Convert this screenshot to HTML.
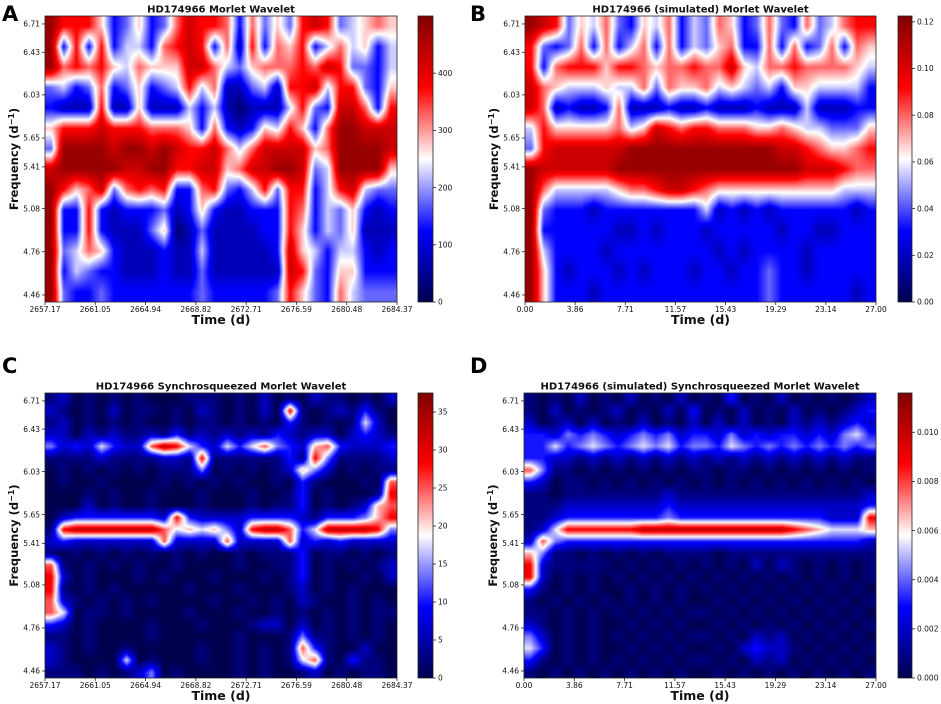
<!DOCTYPE html>
<html><head><meta charset="utf-8">
<style>
html,body{margin:0;padding:0;background:#fff;}
#wrap{position:relative;width:941px;height:704px;overflow:hidden;background:#fff;}
canvas{position:absolute;}
svg{position:absolute;left:0;top:0;}
text{font-family:"DejaVu Sans","Liberation Sans",sans-serif;}
</style></head>
<body>
<div id="wrap">
<svg id="svg" width="941" height="704"></svg>
</div>
<script>
// ---- data ----
const panelAGrid = [
"9777523"+"5236877"+"6263537"+"8734565",
"9272724"+"4267872"+"6172657"+"2464524",
"9676754"+"6555886"+"4356667"+"6873324",
"3423623"+"5234746"+"1134177"+"8477325",
"2111711"+"5111424"+"1011147"+"3288627",
"5777877"+"7666526"+"2125475"+"2699888",
"3999989"+"9898778"+"6468888"+"5699998",
"8999998"+"8997788"+"5688998"+"3499995",
"9756836"+"7672267"+"3247377"+"2478433",
"9227212"+"2231252"+"1122276"+"2435212",
"9227211"+"1350131"+"1112275"+"2435111",
"9346521"+"1121141"+"1111285"+"4244212",
"9243221"+"1121131"+"1111187"+"3255222",
"9322322"+"2222232"+"2222375"+"3264333"
];
const panelBGrid = [
"9873546325462436523632634677",
"7323626246262435622626236265",
"7267775776566766854667666654",
"8654445446365564543425544442",
"8612112611121121112111411122",
"4755555645876776665565443335",
"3788888899999999999988765567",
"9888888999999999999999888766",
"9644444566788765555555555444",
"9322212222222241212122222212",
"9222222112122212222212211222",
"9422221222222221212222122222",
"9521222121222122122322122222",
"9522212222222222222322222212"
];
const panelCGrid = [
"1201010"+"1000111"+"0102010"+"2110102",
"2101020"+"1101021"+"0102081"+"0121310",
"1201010"+"1001011"+"0101031"+"0101520",
"2202121"+"1213121"+"2121321"+"2202321",
"4232532"+"2798532"+"5357432"+"6732223",
"1111211"+"1122181"+"1111131"+"8411112",
"0101010"+"1011140"+"1010126"+"4201011",
"0100100"+"0010101"+"0100103"+"1000107",
"0001010"+"0100010"+"0010013"+"0100018",
"0002010"+"0100010"+"0010113"+"0101267",
"0233333"+"3328322"+"2233332"+"1333468",
"1899999"+"9975656"+"4289973"+"5999984",
"2322222"+"2272222"+"7222272"+"3232222",
"1010101"+"0101010"+"0101113"+"0110101",
"7101010"+"1001000"+"0100113"+"0101012",
"8201000"+"1010001"+"0001013"+"0100102",
"8101010"+"0000100"+"0100012"+"0101000",
"7210101"+"0100001"+"0010102"+"1001010",
"7501101"+"0000100"+"0100101"+"0101011",
"3201000"+"0100010"+"0012202"+"0101010",
"1101000"+"0100000"+"0100014"+"1101010",
"2101001"+"0000010"+"0101017"+"3100200",
"2100005"+"0100010"+"0101015"+"7103110",
"1110101"+"2401000"+"0101001"+"2010110"
];
const panelDGrid = [
"1010201"+"0201020"+"1030102"+"0101012",
"1020101"+"2010203"+"0102010"+"2010123",
"2012020"+"1020102"+"0202010"+"2121232",
"3324343"+"2343423"+"3242323"+"3232453",
"3353454"+"3454534"+"4354343"+"4343434",
"3322121"+"2121212"+"1212121"+"2121211",
"7411010"+"1010101"+"1011010"+"1010101",
"3201101"+"0101010"+"1010101"+"0101010",
"1101111"+"1111211"+"1111111"+"1111112",
"1112222"+"2222322"+"2222222"+"2222223",
"1123333"+"3333433"+"3333333"+"3332228",
"1258888"+"8899999"+"9999999"+"8765556",
"2743333"+"3333333"+"3333333"+"3333332",
"6411010"+"1010111"+"1011111"+"1111111",
"8211111"+"0101010"+"1010202"+"1010101",
"8201010"+"1010101"+"0101010"+"1010101",
"3101010"+"0101010"+"1010101"+"0101010",
"1010101"+"0101010"+"0101010"+"1010101",
"1101010"+"1010101"+"1010101"+"0101010",
"2101010"+"0101010"+"0101010"+"1010101",
"4201010"+"1010101"+"1010212"+"0101010",
"5301010"+"0101010"+"0102322"+"1010101",
"3101010"+"1010101"+"1010212"+"0101010",
"1010101"+"0101010"+"0101010"+"1010101"
];
const timeTicksReal = ["2657.17","2661.05","2664.94","2668.82","2672.71","2676.59","2680.48","2684.37"];
const timeTicksSim = ["0.00","3.86","7.71","11.57","15.43","19.29","23.14","27.00"];
const freqTicks = [6.71,6.43,6.03,5.65,5.41,5.08,4.76,4.46];
const cbTicksA = [0,100,200,300,400];
const cbTicksB = [0,0.02,0.04,0.06,0.08,0.10,0.12];
const cbTicksC = [0,5,10,15,20,25,30,35];
const cbTicksD = [0,0.002,0.004,0.006,0.008,0.010];
</script>
<script>
const NS="http://www.w3.org/2000/svg";
const svg=document.getElementById('svg');
const wrap=document.getElementById('wrap');
const FMAX=6.791, FMIN=4.413;
function mk(tag,attrs,parent){const e=document.createElementNS(NS,tag);for(const k in attrs)e.setAttribute(k,attrs[k]);(parent||svg).appendChild(e);return e;}
function seismic(v){
  v=Math.max(0,Math.min(1,v));let r,g,b,t;
  if(v<0.25){t=v/0.25;r=0;g=0;b=0.3+0.7*t;}
  else if(v<0.5){t=(v-0.25)/0.25;r=t;g=t;b=1;}
  else if(v<0.75){t=(v-0.5)/0.25;r=1;g=1-t;b=1-t;}
  else{t=(v-0.75)/0.25;r=1-0.5*t;g=0;b=0;}
  return [r*255,g*255,b*255];
}
function drawPanel(p){
  const g=mk('g',{});
  
  
  const yScale=f=>p.top+(Math.log(FMAX)-Math.log(f))/(Math.log(FMAX)-Math.log(FMIN))*p.h;
  const xScale=i=>p.left+i/(p.xticks.length-1)*p.w;
  const cv=document.createElement('canvas');
  cv.width=p.w;cv.height=p.h;cv.style.left=p.left+'px';cv.style.top=p.top+'px';
  
  
  wrap.insertBefore(cv,svg);
  const ctx=cv.getContext('2d');const img=ctx.createImageData(p.w,p.h);
  const grid=p.grid.map(r=>r.split('').map(c=>Math.max(0,(+c+p.off)/10)));
  const R=grid.length,C=grid[0].length;
  for(let y=0;y<p.h;y++){
    let gy=(y+0.5)/p.h*R-0.5;gy=Math.max(0,Math.min(R-1,gy));const y0=Math.floor(gy),y1=Math.min(R-1,y0+1),fy=gy-y0;
    for(let x=0;x<p.w;x++){
      let gx=(x+0.5)/p.w*C-0.5;gx=Math.max(0,Math.min(C-1,gx));const x0=Math.floor(gx),x1=Math.min(C-1,x0+1),fx=gx-x0;
      const a=grid[y0][x0],b=grid[y0][x1],c2=grid[y1][x0],d=grid[y1][x1];
      const v=(a*(1-fx)+b*fx)*(1-fy)+(c2*(1-fx)+d*fx)*fy;
      const c=seismic(v);const i=(y*p.w+x)*4;
      img.data[i]=c[0];img.data[i+1]=c[1];img.data[i+2]=c[2];img.data[i+3]=255;
    }
  }
  ctx.putImageData(img,0,0);
  const fr=mk('rect',{x:p.left,y:p.top,width:p.w,height:p.h,fill:'none',stroke:'#222','stroke-width':0.8},g);
  
  
  p.xticks.forEach((lab,i)=>{
    const x=xScale(i);
    mk('line',{x1:x,x2:x,y1:p.top+p.h,y2:p.top+p.h+3,stroke:'#222','stroke-width':0.8},g);
    const t=mk('text',{x:x,y:p.top+p.h+10,'font-size':7.5,'text-anchor':'middle',fill:'#111'},g);
    t.textContent=lab;
    
    
  });
  freqTicks.forEach(f=>{
    const y=yScale(f);
    mk('line',{x1:p.left-3,x2:p.left,y1:y,y2:y,stroke:'#222','stroke-width':0.8},g);
    const t=mk('text',{x:p.left-5,y:y+2.7,'font-size':7.5,'text-anchor':'end',fill:'#111'},g);
    t.textContent=f.toFixed(2);
    
    
  });
  const xt=mk('text',{x:p.left+p.w/2,y:p.top+p.h+22,'font-size':12.5,'font-weight':'bold','text-anchor':'middle',fill:'#111'},g);
  xt.textContent='Time (d)';
  
  
  const yt=mk('text',{x:0,y:0,'font-size':11.5,'font-weight':'bold','text-anchor':'middle',fill:'#111',transform:`translate(${p.left-27},${p.top+p.h/2}) rotate(-90)`},g);
  yt.innerHTML='Frequency (d<tspan dy="-4" font-size="8">−1</tspan><tspan dy="4">)</tspan>';
  
  
  const ti=mk('text',{x:p.left+p.w/2,y:p.top-3.5,'font-size':10,'font-weight':'bold','text-anchor':'middle',fill:'#111'},g);
  ti.textContent=p.title;
  
  
  const le=mk('text',{x:p.letterX,y:p.letterY,'font-size':21,'font-weight':'bold',fill:'#000','font-family':'Liberation Sans, sans-serif'},g);
  le.textContent=p.letter;
  
  
  const gid='grad'+p.letter;
  const defs=mk('defs',{},g);
  const lg=mk('linearGradient',{id:gid,x1:0,y1:1,x2:0,y2:0},defs);
  [[0,'#00004d'],[0.25,'#0000ff'],[0.5,'#ffffff'],[0.75,'#ff0000'],[1,'#800000']].forEach(s=>mk('stop',{offset:s[0],'stop-color':s[1]},lg));
  const cb=mk('rect',{x:p.cbx,y:p.top,width:p.cbw,height:p.h,fill:`url(#${gid})`,stroke:'#222','stroke-width':0.8},g);
  
  
  const cbScale=v=>p.top+p.h-v/p.cbmax*p.h;
  p.cbticks.forEach(v=>{
    const y=cbScale(v);
    mk('line',{x1:p.cbx+p.cbw,x2:p.cbx+p.cbw+3,y1:y,y2:y,stroke:'#222','stroke-width':0.8},g);
    const t=mk('text',{x:p.cbx+p.cbw+5,y:y+2.7,'font-size':7.5,fill:'#111'},g);
    t.textContent=v.toFixed(p.cbdec);
    
    
  });
}
drawPanel({name:'panel-a',letter:'A',letterX:2,letterY:21,title:'HD174966 Morlet Wavelet',grid:panelAGrid,off:0.5,left:45,top:16,w:352,h:286,xticks:timeTicksReal,cbx:418,cbw:15,cbticks:cbTicksA,cbmax:500,cbdec:0});
drawPanel({name:'panel-b',letter:'B',letterX:470,letterY:21,title:'HD174966 (simulated) Morlet Wavelet',grid:panelBGrid,off:0.5,left:525,top:16,w:351,h:286,xticks:timeTicksSim,cbx:898,cbw:14,cbticks:cbTicksB,cbmax:0.1225,cbdec:2});
drawPanel({name:'panel-c',letter:'C',letterX:2,letterY:373,title:'HD174966 Synchrosqueezed Morlet Wavelet',grid:panelCGrid,off:-0.3,left:45,top:393,w:352,h:285,xticks:timeTicksReal,cbx:418,cbw:15,cbticks:cbTicksC,cbmax:37.5,cbdec:0});
drawPanel({name:'panel-d',letter:'D',letterX:470,letterY:373,title:'HD174966 (simulated) Synchrosqueezed Morlet Wavelet',grid:panelDGrid,off:-0.3,left:524,top:393,w:352,h:285,xticks:timeTicksSim,cbx:898,cbw:14,cbticks:cbTicksD,cbmax:0.0116,cbdec:3});
</script>
</body></html>
